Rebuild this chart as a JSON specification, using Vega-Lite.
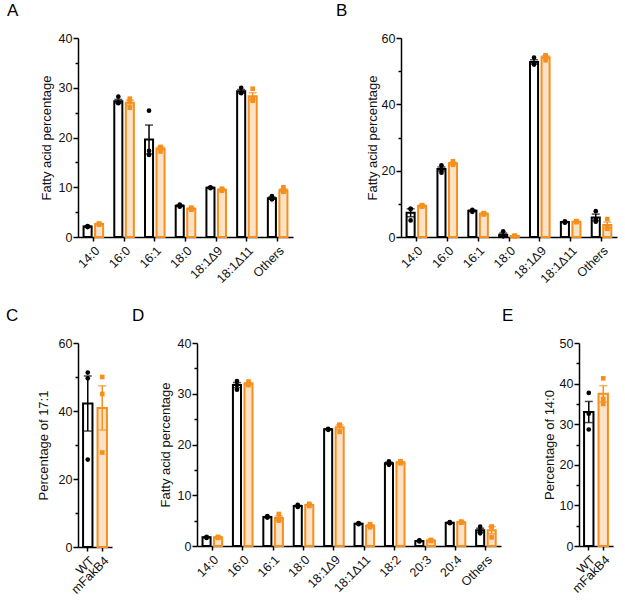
{
"$schema":"https://vega.github.io/schema/vega-lite/v6.json",
"padding":{"left":6,"top":2,"right":5,"bottom":5},
"background":"white",
"config":{
 "font":"Liberation Sans",
 "view":{"stroke":null},
 "axis":{"domainColor":"#000","domainWidth":1.5,"tickColor":"#000","tickWidth":1.5,"labelColor":"#111","labelFontSize":12.5,"labelFont":"Liberation Sans","titleFont":"Liberation Sans","titleFontSize":13,"titleFontWeight":"normal","titleColor":"#111","grid":false},
 "title":{"fontSize":17,"fontWeight":"normal","anchor":"start","frame":"group","color":"#000","font":"Liberation Sans","baseline":"alphabetic","offset":12}
},
"datasets":{
 "bars":[
  {"p":"A","fa":"14:0","g":"WT","value":2.1,"sem":0.1},{"p":"A","fa":"14:0","g":"mFakB4","value":2.6,"sem":0.1},
  {"p":"A","fa":"16:0","g":"WT","value":27.3,"sem":0.35},{"p":"A","fa":"16:0","g":"mFakB4","value":27.0,"sem":0.5},
  {"p":"A","fa":"16:1","g":"WT","value":19.6,"sem":2.9},{"p":"A","fa":"16:1","g":"mFakB4","value":17.8,"sem":0.3},
  {"p":"A","fa":"18:0","g":"WT","value":6.3,"sem":0.15},{"p":"A","fa":"18:0","g":"mFakB4","value":5.7,"sem":0.15},
  {"p":"A","fa":"18:1Δ9","g":"WT","value":9.9,"sem":0.1},{"p":"A","fa":"18:1Δ9","g":"mFakB4","value":9.5,"sem":0.15},
  {"p":"A","fa":"18:1Δ11","g":"WT","value":29.3,"sem":0.35},{"p":"A","fa":"18:1Δ11","g":"mFakB4","value":28.3,"sem":0.7},
  {"p":"A","fa":"Others","g":"WT","value":7.8,"sem":0.2},{"p":"A","fa":"Others","g":"mFakB4","value":9.4,"sem":0.3},
  {"p":"B","fa":"14:0","g":"WT","value":7.3,"sem":1.2},{"p":"B","fa":"14:0","g":"mFakB4","value":9.4,"sem":0.15},
  {"p":"B","fa":"16:0","g":"WT","value":20.5,"sem":0.6},{"p":"B","fa":"16:0","g":"mFakB4","value":22.2,"sem":0.3},
  {"p":"B","fa":"16:1","g":"WT","value":7.9,"sem":0.2},{"p":"B","fa":"16:1","g":"mFakB4","value":7.0,"sem":0.2},
  {"p":"B","fa":"18:0","g":"WT","value":0.7,"sem":0.5},{"p":"B","fa":"18:0","g":"mFakB4","value":0.3,"sem":0.1},
  {"p":"B","fa":"18:1Δ9","g":"WT","value":52.8,"sem":0.65},{"p":"B","fa":"18:1Δ9","g":"mFakB4","value":54.2,"sem":0.45},
  {"p":"B","fa":"18:1Δ11","g":"WT","value":4.5,"sem":0.15},{"p":"B","fa":"18:1Δ11","g":"mFakB4","value":4.6,"sem":0.1},
  {"p":"B","fa":"Others","g":"WT","value":5.9,"sem":1.0},{"p":"B","fa":"Others","g":"mFakB4","value":3.6,"sem":0.9},
  {"p":"C","fa":"17:1","g":"WT","value":42.2,"sem":8.1},{"p":"C","fa":"17:1","g":"mFakB4","value":40.9,"sem":6.5},
  {"p":"D","fa":"14:0","g":"WT","value":1.7,"sem":0.05},{"p":"D","fa":"14:0","g":"mFakB4","value":1.7,"sem":0.1},
  {"p":"D","fa":"16:0","g":"WT","value":31.7,"sem":0.5},{"p":"D","fa":"16:0","g":"mFakB4","value":32.0,"sem":0.2},
  {"p":"D","fa":"16:1","g":"WT","value":5.7,"sem":0.1},{"p":"D","fa":"16:1","g":"mFakB4","value":5.5,"sem":0.4},
  {"p":"D","fa":"18:0","g":"WT","value":7.9,"sem":0.1},{"p":"D","fa":"18:0","g":"mFakB4","value":8.1,"sem":0.1},
  {"p":"D","fa":"18:1Δ9","g":"WT","value":23.0,"sem":0.1},{"p":"D","fa":"18:1Δ9","g":"mFakB4","value":23.4,"sem":0.45},
  {"p":"D","fa":"18:1Δ11","g":"WT","value":4.4,"sem":0.05},{"p":"D","fa":"18:1Δ11","g":"mFakB4","value":4.0,"sem":0.2},
  {"p":"D","fa":"18:2","g":"WT","value":16.3,"sem":0.2},{"p":"D","fa":"18:2","g":"mFakB4","value":16.5,"sem":0.1},
  {"p":"D","fa":"20:3","g":"WT","value":1.0,"sem":0.05},{"p":"D","fa":"20:3","g":"mFakB4","value":1.1,"sem":0.05},
  {"p":"D","fa":"20:4","g":"WT","value":4.6,"sem":0.05},{"p":"D","fa":"20:4","g":"mFakB4","value":4.7,"sem":0.1},
  {"p":"D","fa":"Others","g":"WT","value":3.1,"sem":0.4},{"p":"D","fa":"Others","g":"mFakB4","value":3.1,"sem":0.7},
  {"p":"E","fa":"14:0","g":"WT","value":33.0,"sem":2.6},{"p":"E","fa":"14:0","g":"mFakB4","value":37.5,"sem":2.0}
 ],
 "pts":[
  {"p":"A","fa":"14:0","g":"WT","value":2.2},{"p":"A","fa":"14:0","g":"WT","value":2.0},{"p":"A","fa":"14:0","g":"WT","value":2.1},
  {"p":"A","fa":"14:0","g":"mFakB4","value":2.7},{"p":"A","fa":"14:0","g":"mFakB4","value":2.5},{"p":"A","fa":"14:0","g":"mFakB4","value":2.6},
  {"p":"A","fa":"16:0","g":"WT","value":28.2},{"p":"A","fa":"16:0","g":"WT","value":27.0},{"p":"A","fa":"16:0","g":"WT","value":26.9},
  {"p":"A","fa":"16:0","g":"mFakB4","value":27.8},{"p":"A","fa":"16:0","g":"mFakB4","value":27.3},{"p":"A","fa":"16:0","g":"mFakB4","value":26.0},
  {"p":"A","fa":"16:1","g":"WT","value":25.4},{"p":"A","fa":"16:1","g":"WT","value":17.3},{"p":"A","fa":"16:1","g":"WT","value":16.5},
  {"p":"A","fa":"16:1","g":"mFakB4","value":18.1},{"p":"A","fa":"16:1","g":"mFakB4","value":17.9},{"p":"A","fa":"16:1","g":"mFakB4","value":17.2},
  {"p":"A","fa":"18:0","g":"WT","value":6.5},{"p":"A","fa":"18:0","g":"WT","value":6.3},{"p":"A","fa":"18:0","g":"WT","value":6.1},
  {"p":"A","fa":"18:0","g":"mFakB4","value":5.9},{"p":"A","fa":"18:0","g":"mFakB4","value":5.7},{"p":"A","fa":"18:0","g":"mFakB4","value":5.5},
  {"p":"A","fa":"18:1Δ9","g":"WT","value":10.0},{"p":"A","fa":"18:1Δ9","g":"WT","value":9.9},{"p":"A","fa":"18:1Δ9","g":"WT","value":9.8},
  {"p":"A","fa":"18:1Δ9","g":"mFakB4","value":9.7},{"p":"A","fa":"18:1Δ9","g":"mFakB4","value":9.5},{"p":"A","fa":"18:1Δ9","g":"mFakB4","value":9.3},
  {"p":"A","fa":"18:1Δ11","g":"WT","value":30.0},{"p":"A","fa":"18:1Δ11","g":"WT","value":28.9},{"p":"A","fa":"18:1Δ11","g":"WT","value":29.0},
  {"p":"A","fa":"18:1Δ11","g":"mFakB4","value":29.8},{"p":"A","fa":"18:1Δ11","g":"mFakB4","value":27.7},{"p":"A","fa":"18:1Δ11","g":"mFakB4","value":27.4},
  {"p":"A","fa":"Others","g":"WT","value":8.2},{"p":"A","fa":"Others","g":"WT","value":7.6},{"p":"A","fa":"Others","g":"WT","value":7.6},
  {"p":"A","fa":"Others","g":"mFakB4","value":10.0},{"p":"A","fa":"Others","g":"mFakB4","value":9.2},{"p":"A","fa":"Others","g":"mFakB4","value":9.1},
  {"p":"B","fa":"14:0","g":"WT","value":8.5},{"p":"B","fa":"14:0","g":"WT","value":8.5},{"p":"B","fa":"14:0","g":"WT","value":5.0},
  {"p":"B","fa":"14:0","g":"mFakB4","value":9.6},{"p":"B","fa":"14:0","g":"mFakB4","value":9.3},{"p":"B","fa":"14:0","g":"mFakB4","value":9.2},
  {"p":"B","fa":"16:0","g":"WT","value":21.6},{"p":"B","fa":"16:0","g":"WT","value":20.4},{"p":"B","fa":"16:0","g":"WT","value":19.4},
  {"p":"B","fa":"16:0","g":"mFakB4","value":22.8},{"p":"B","fa":"16:0","g":"mFakB4","value":22.1},{"p":"B","fa":"16:0","g":"mFakB4","value":21.8},
  {"p":"B","fa":"16:1","g":"WT","value":8.2},{"p":"B","fa":"16:1","g":"WT","value":7.9},{"p":"B","fa":"16:1","g":"WT","value":7.6},
  {"p":"B","fa":"16:1","g":"mFakB4","value":7.2},{"p":"B","fa":"16:1","g":"mFakB4","value":7.0},{"p":"B","fa":"16:1","g":"mFakB4","value":6.8},
  {"p":"B","fa":"18:0","g":"WT","value":1.7},{"p":"B","fa":"18:0","g":"WT","value":0.3},{"p":"B","fa":"18:0","g":"WT","value":0.2},
  {"p":"B","fa":"18:0","g":"mFakB4","value":0.4},{"p":"B","fa":"18:0","g":"mFakB4","value":0.3},{"p":"B","fa":"18:0","g":"mFakB4","value":0.2},
  {"p":"B","fa":"18:1Δ9","g":"WT","value":54.1},{"p":"B","fa":"18:1Δ9","g":"WT","value":52.3},{"p":"B","fa":"18:1Δ9","g":"WT","value":52.0},
  {"p":"B","fa":"18:1Δ9","g":"mFakB4","value":54.8},{"p":"B","fa":"18:1Δ9","g":"mFakB4","value":54.4},{"p":"B","fa":"18:1Δ9","g":"mFakB4","value":53.3},
  {"p":"B","fa":"18:1Δ11","g":"WT","value":4.7},{"p":"B","fa":"18:1Δ11","g":"WT","value":4.5},{"p":"B","fa":"18:1Δ11","g":"WT","value":4.3},
  {"p":"B","fa":"18:1Δ11","g":"mFakB4","value":4.8},{"p":"B","fa":"18:1Δ11","g":"mFakB4","value":4.6},{"p":"B","fa":"18:1Δ11","g":"mFakB4","value":4.5},
  {"p":"B","fa":"Others","g":"WT","value":7.8},{"p":"B","fa":"Others","g":"WT","value":5.3},{"p":"B","fa":"Others","g":"WT","value":4.6},
  {"p":"B","fa":"Others","g":"mFakB4","value":5.4},{"p":"B","fa":"Others","g":"mFakB4","value":2.9},{"p":"B","fa":"Others","g":"mFakB4","value":2.5},
  {"p":"C","fa":"17:1","g":"WT","value":51.3},{"p":"C","fa":"17:1","g":"WT","value":49.6},{"p":"C","fa":"17:1","g":"WT","value":25.7},
  {"p":"C","fa":"17:1","g":"mFakB4","value":50.0},{"p":"C","fa":"17:1","g":"mFakB4","value":45.0},{"p":"C","fa":"17:1","g":"mFakB4","value":27.8},
  {"p":"D","fa":"14:0","g":"WT","value":1.8},{"p":"D","fa":"14:0","g":"WT","value":1.7},{"p":"D","fa":"14:0","g":"WT","value":1.6},
  {"p":"D","fa":"14:0","g":"mFakB4","value":1.8},{"p":"D","fa":"14:0","g":"mFakB4","value":1.7},{"p":"D","fa":"14:0","g":"mFakB4","value":1.6},
  {"p":"D","fa":"16:0","g":"WT","value":32.5},{"p":"D","fa":"16:0","g":"WT","value":31.7},{"p":"D","fa":"16:0","g":"WT","value":30.8},
  {"p":"D","fa":"16:0","g":"mFakB4","value":32.4},{"p":"D","fa":"16:0","g":"mFakB4","value":32.0},{"p":"D","fa":"16:0","g":"mFakB4","value":31.7},
  {"p":"D","fa":"16:1","g":"WT","value":5.9},{"p":"D","fa":"16:1","g":"WT","value":5.7},{"p":"D","fa":"16:1","g":"WT","value":5.6},
  {"p":"D","fa":"16:1","g":"mFakB4","value":6.3},{"p":"D","fa":"16:1","g":"mFakB4","value":5.2},{"p":"D","fa":"16:1","g":"mFakB4","value":5.0},
  {"p":"D","fa":"18:0","g":"WT","value":8.1},{"p":"D","fa":"18:0","g":"WT","value":7.9},{"p":"D","fa":"18:0","g":"WT","value":7.7},
  {"p":"D","fa":"18:0","g":"mFakB4","value":8.3},{"p":"D","fa":"18:0","g":"mFakB4","value":8.1},{"p":"D","fa":"18:0","g":"mFakB4","value":7.9},
  {"p":"D","fa":"18:1Δ9","g":"WT","value":23.1},{"p":"D","fa":"18:1Δ9","g":"WT","value":23.0},{"p":"D","fa":"18:1Δ9","g":"WT","value":22.9},
  {"p":"D","fa":"18:1Δ9","g":"mFakB4","value":23.9},{"p":"D","fa":"18:1Δ9","g":"mFakB4","value":23.8},{"p":"D","fa":"18:1Δ9","g":"mFakB4","value":22.5},
  {"p":"D","fa":"18:1Δ11","g":"WT","value":4.5},{"p":"D","fa":"18:1Δ11","g":"WT","value":4.4},{"p":"D","fa":"18:1Δ11","g":"WT","value":4.3},
  {"p":"D","fa":"18:1Δ11","g":"mFakB4","value":4.3},{"p":"D","fa":"18:1Δ11","g":"mFakB4","value":4.0},{"p":"D","fa":"18:1Δ11","g":"mFakB4","value":3.7},
  {"p":"D","fa":"18:2","g":"WT","value":16.7},{"p":"D","fa":"18:2","g":"WT","value":16.2},{"p":"D","fa":"18:2","g":"WT","value":16.0},
  {"p":"D","fa":"18:2","g":"mFakB4","value":16.7},{"p":"D","fa":"18:2","g":"mFakB4","value":16.5},{"p":"D","fa":"18:2","g":"mFakB4","value":16.3},
  {"p":"D","fa":"20:3","g":"WT","value":1.1},{"p":"D","fa":"20:3","g":"WT","value":1.0},{"p":"D","fa":"20:3","g":"WT","value":0.9},
  {"p":"D","fa":"20:3","g":"mFakB4","value":1.2},{"p":"D","fa":"20:3","g":"mFakB4","value":1.1},{"p":"D","fa":"20:3","g":"mFakB4","value":1.0},
  {"p":"D","fa":"20:4","g":"WT","value":4.7},{"p":"D","fa":"20:4","g":"WT","value":4.6},{"p":"D","fa":"20:4","g":"WT","value":4.5},
  {"p":"D","fa":"20:4","g":"mFakB4","value":4.8},{"p":"D","fa":"20:4","g":"mFakB4","value":4.7},{"p":"D","fa":"20:4","g":"mFakB4","value":4.6},
  {"p":"D","fa":"Others","g":"WT","value":3.8},{"p":"D","fa":"Others","g":"WT","value":3.0},{"p":"D","fa":"Others","g":"WT","value":2.5},
  {"p":"D","fa":"Others","g":"mFakB4","value":3.8},{"p":"D","fa":"Others","g":"mFakB4","value":3.8},{"p":"D","fa":"Others","g":"mFakB4","value":1.7},
  {"p":"E","fa":"14:0","g":"WT","value":37.7},{"p":"E","fa":"14:0","g":"WT","value":32.6},{"p":"E","fa":"14:0","g":"WT","value":28.7},
  {"p":"E","fa":"14:0","g":"mFakB4","value":41.3},{"p":"E","fa":"14:0","g":"mFakB4","value":36.2},{"p":"E","fa":"14:0","g":"mFakB4","value":35.0}
 ]
},
"spacing":21,
"vconcat":[
 {"spacing":43,"hconcat":[
  {"title":{"text":"A","dx":-71},"width":215,"height":199,
   "encoding":{
    "x":{"field":"fa","type":"nominal","sort":["14:0","16:0","16:1","18:0","18:1Δ9","18:1Δ11","Others"],"scale":{"paddingInner":0.25,"paddingOuter":0.125},"axis":{"title":null,"labelAngle":-45,"tickSize":4,"labelPadding":3}},
    "xOffset":{"field":"g","type":"nominal","sort":["WT","mFakB4"],"scale":{"paddingInner":0.3,"paddingOuter":0.15}},
    "y":{"field":"value","type":"quantitative","scale":{"domain":[0,40],"nice":false},"axis":{"title":"Fatty acid percentage","values":[0,5,10,15,20,25,30,35,40],"labelExpr":"datum.value % 10 === 0 ? datum.label : ''","tickSize":{"condition":{"test":"datum.value % 10 === 0","value":5},"value":3},"labelPadding":1,"titlePadding":5}}
   },
   "layer":[
    {"data":{"name":"bars"},"transform":[{"filter":"datum.p === 'A'"}],"mark":{"type":"bar","strokeWidth":2},
     "encoding":{"fill":{"field":"g","type":"nominal","scale":{"domain":["WT","mFakB4"],"range":["#ffffff","#fde2c8"]},"legend":null},"stroke":{"field":"g","type":"nominal","scale":{"domain":["WT","mFakB4"],"range":["#000000","#f5901f"]},"legend":null}}},
    {"data":{"name":"bars"},"transform":[{"filter":"datum.p === 'A'"}],"mark":{"type":"errorbar","ticks":{"size":8},"thickness":1.5},
     "encoding":{"yError":{"field":"sem"},"color":{"field":"g","type":"nominal","scale":{"domain":["WT","mFakB4"],"range":["#000000","#f5901f"]},"legend":null}}},
    {"data":{"name":"pts"},"transform":[{"filter":"datum.p === 'A'"}],"mark":{"type":"point","filled":true,"size":22,"opacity":1},
     "encoding":{"color":{"field":"g","type":"nominal","scale":{"domain":["WT","mFakB4"],"range":["#000000","#f5901f"]},"legend":null},"shape":{"field":"g","type":"nominal","scale":{"domain":["WT","mFakB4"],"range":["circle","square"]},"legend":null}}}
   ]},
  {"title":{"text":"B","dx":-65},"width":216,"height":199,
   "encoding":{
    "x":{"field":"fa","type":"nominal","sort":["14:0","16:0","16:1","18:0","18:1Δ9","18:1Δ11","Others"],"scale":{"paddingInner":0.25,"paddingOuter":0.125},"axis":{"title":null,"labelAngle":-45,"tickSize":4,"labelPadding":3}},
    "xOffset":{"field":"g","type":"nominal","sort":["WT","mFakB4"],"scale":{"paddingInner":0.3,"paddingOuter":0.15}},
    "y":{"field":"value","type":"quantitative","scale":{"domain":[0,60],"nice":false},"axis":{"title":"Fatty acid percentage","values":[0,10,20,30,40,50,60],"labelExpr":"datum.value % 20 === 0 ? datum.label : ''","tickSize":{"condition":{"test":"datum.value % 20 === 0","value":5},"value":3},"labelPadding":1,"titlePadding":2}}
   },
   "layer":[
    {"data":{"name":"bars"},"transform":[{"filter":"datum.p === 'B'"}],"mark":{"type":"bar","strokeWidth":2},
     "encoding":{"fill":{"field":"g","type":"nominal","scale":{"domain":["WT","mFakB4"],"range":["#ffffff","#fde2c8"]},"legend":null},"stroke":{"field":"g","type":"nominal","scale":{"domain":["WT","mFakB4"],"range":["#000000","#f5901f"]},"legend":null}}},
    {"data":{"name":"bars"},"transform":[{"filter":"datum.p === 'B'"}],"mark":{"type":"errorbar","ticks":{"size":8},"thickness":1.5},
     "encoding":{"yError":{"field":"sem"},"color":{"field":"g","type":"nominal","scale":{"domain":["WT","mFakB4"],"range":["#000000","#f5901f"]},"legend":null}}},
    {"data":{"name":"pts"},"transform":[{"filter":"datum.p === 'B'"}],"mark":{"type":"point","filled":true,"size":22,"opacity":1},
     "encoding":{"color":{"field":"g","type":"nominal","scale":{"domain":["WT","mFakB4"],"range":["#000000","#f5901f"]},"legend":null},"shape":{"field":"g","type":"nominal","scale":{"domain":["WT","mFakB4"],"range":["circle","square"]},"legend":null}}}
   ]}
 ]},
 {"spacing":20,"hconcat":[
  {"title":{"text":"C","dx":-72},"width":34,"height":204,
   "encoding":{
    "x":{"field":"g","type":"nominal","sort":["WT","mFakB4"],"scale":{"paddingInner":0.35,"paddingOuter":0.35},"axis":{"title":null,"labelAngle":-45,"tickSize":4,"labelPadding":3}},
    "y":{"field":"value","type":"quantitative","scale":{"domain":[0,60],"nice":false},"axis":{"title":"Percentage of 17:1","values":[0,10,20,30,40,50,60],"labelExpr":"datum.value % 20 === 0 ? datum.label : ''","tickSize":{"condition":{"test":"datum.value % 20 === 0","value":5},"value":3},"labelPadding":1,"titlePadding":8}}
   },
   "layer":[
    {"data":{"name":"bars"},"transform":[{"filter":"datum.p === 'C'"}],"mark":{"type":"bar","strokeWidth":2},
     "encoding":{"fill":{"field":"g","type":"nominal","scale":{"domain":["WT","mFakB4"],"range":["#ffffff","#fde2c8"]},"legend":null},"stroke":{"field":"g","type":"nominal","scale":{"domain":["WT","mFakB4"],"range":["#000000","#f5901f"]},"legend":null}}},
    {"data":{"name":"bars"},"transform":[{"filter":"datum.p === 'C'"}],"mark":{"type":"errorbar","ticks":{"size":8},"thickness":1.5},
     "encoding":{"yError":{"field":"sem"},"color":{"field":"g","type":"nominal","scale":{"domain":["WT","mFakB4"],"range":["#000000","#f5901f"]},"legend":null}}},
    {"data":{"name":"pts"},"transform":[{"filter":"datum.p === 'C'"}],"mark":{"type":"point","filled":true,"size":22,"opacity":1},
     "encoding":{"color":{"field":"g","type":"nominal","scale":{"domain":["WT","mFakB4"],"range":["#000000","#f5901f"]},"legend":null},"shape":{"field":"g","type":"nominal","scale":{"domain":["WT","mFakB4"],"range":["circle","square"]},"legend":null}}}
   ]},
  {"spacing":1,"hconcat":[
   {"title":{"text":"D","dx":-65},"width":304,"height":203,
    "encoding":{
     "x":{"field":"fa","type":"nominal","sort":["14:0","16:0","16:1","18:0","18:1Δ9","18:1Δ11","18:2","20:3","20:4","Others"],"scale":{"paddingInner":0.25,"paddingOuter":0.125},"axis":{"title":null,"labelAngle":-45,"tickSize":4,"labelPadding":3}},
     "xOffset":{"field":"g","type":"nominal","sort":["WT","mFakB4"],"scale":{"paddingInner":0.3,"paddingOuter":0.15}},
     "y":{"field":"value","type":"quantitative","scale":{"domain":[0,40],"nice":false},"axis":{"title":"Fatty acid percentage","values":[0,5,10,15,20,25,30,35,40],"labelExpr":"datum.value % 10 === 0 ? datum.label : ''","tickSize":{"condition":{"test":"datum.value % 10 === 0","value":5},"value":3},"labelPadding":1,"titlePadding":5}}
    },
    "layer":[
     {"data":{"name":"bars"},"transform":[{"filter":"datum.p === 'D'"}],"mark":{"type":"bar","strokeWidth":2},
      "encoding":{"fill":{"field":"g","type":"nominal","scale":{"domain":["WT","mFakB4"],"range":["#ffffff","#fde2c8"]},"legend":null},"stroke":{"field":"g","type":"nominal","scale":{"domain":["WT","mFakB4"],"range":["#000000","#f5901f"]},"legend":null}}},
     {"data":{"name":"bars"},"transform":[{"filter":"datum.p === 'D'"}],"mark":{"type":"errorbar","ticks":{"size":8},"thickness":1.5},
      "encoding":{"yError":{"field":"sem"},"color":{"field":"g","type":"nominal","scale":{"domain":["WT","mFakB4"],"range":["#000000","#f5901f"]},"legend":null}}},
     {"data":{"name":"pts"},"transform":[{"filter":"datum.p === 'D'"}],"mark":{"type":"point","filled":true,"size":22,"opacity":1},
      "encoding":{"color":{"field":"g","type":"nominal","scale":{"domain":["WT","mFakB4"],"range":["#000000","#f5901f"]},"legend":null},"shape":{"field":"g","type":"nominal","scale":{"domain":["WT","mFakB4"],"range":["circle","square"]},"legend":null}}}
    ]},
   {"title":{"text":"E","dx":-77},"width":34,"height":203,
    "encoding":{
     "x":{"field":"g","type":"nominal","sort":["WT","mFakB4"],"scale":{"paddingInner":0.35,"paddingOuter":0.35},"axis":{"title":null,"labelAngle":-45,"tickSize":4,"labelPadding":3}},
     "y":{"field":"value","type":"quantitative","scale":{"domain":[0,50],"nice":false},"axis":{"title":"Percentage of 14:0","values":[0,5,10,15,20,25,30,35,40,45,50],"labelExpr":"datum.value % 10 === 0 ? datum.label : ''","tickSize":{"condition":{"test":"datum.value % 10 === 0","value":5},"value":3},"labelPadding":1,"titlePadding":3}}
    },
    "layer":[
     {"data":{"name":"bars"},"transform":[{"filter":"datum.p === 'E'"}],"mark":{"type":"bar","strokeWidth":2},
      "encoding":{"fill":{"field":"g","type":"nominal","scale":{"domain":["WT","mFakB4"],"range":["#ffffff","#fde2c8"]},"legend":null},"stroke":{"field":"g","type":"nominal","scale":{"domain":["WT","mFakB4"],"range":["#000000","#f5901f"]},"legend":null}}},
     {"data":{"name":"bars"},"transform":[{"filter":"datum.p === 'E'"}],"mark":{"type":"errorbar","ticks":{"size":8},"thickness":1.5},
      "encoding":{"yError":{"field":"sem"},"color":{"field":"g","type":"nominal","scale":{"domain":["WT","mFakB4"],"range":["#000000","#f5901f"]},"legend":null}}},
     {"data":{"name":"pts"},"transform":[{"filter":"datum.p === 'E'"}],"mark":{"type":"point","filled":true,"size":22,"opacity":1},
      "encoding":{"color":{"field":"g","type":"nominal","scale":{"domain":["WT","mFakB4"],"range":["#000000","#f5901f"]},"legend":null},"shape":{"field":"g","type":"nominal","scale":{"domain":["WT","mFakB4"],"range":["circle","square"]},"legend":null}}}
    ]}
  ]}
 ]}
]
}
